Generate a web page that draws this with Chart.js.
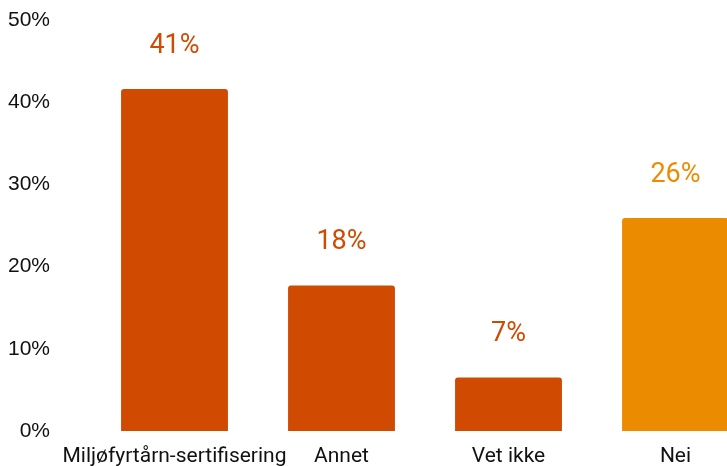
<!DOCTYPE html>
<html>
<head>
<meta charset="utf-8">
<script src="https://cdn.jsdelivr.net/npm/chart.js@4"></script>
<style>
  html, body { margin: 0; padding: 0; background: #fff; overflow: hidden; }
  #wrap { width: 759px; height: 466px; }
</style>
</head>
<body>
<div id="wrap"><canvas id="myChart" width="759" height="466"></canvas></div>
<script>
  const categories = ['Miljøfyrtårn-sertifisering', 'Annet', 'Vet ikke', 'Nei']
  const values = [41.6, 17.7, 6.5, 25.9]
  const valueLabels = ['41%', '18%', '7%', '26%']
  const barColors = ['#d04a02', '#d04a02', '#d04a02', '#eb8c00']
  const yTicks = [0, 10, 20, 30, 40, 50]

  // draws the percentage text above each bar
  const topLabels = {
    id: 'topLabels',
    afterDatasetsDraw(chart) {
      const c = chart.ctx
      const meta = chart.getDatasetMeta(0)
      c.save()
      c.font = '27px Roboto'
      c.textAlign = 'center'
      c.textBaseline = 'middle'
      meta.data.forEach((bar, i) => {
        c.fillStyle = barColors[i]
        c.fillText(valueLabels[i], bar.x, bar.y - 43)
      })
      c.restore()
    }
  }

  const ctx = document.getElementById('myChart')
  new Chart(ctx, {
    type: 'bar',
    data: {
      labels: categories,
      datasets: [{
        data: values,
        backgroundColor: barColors,
        borderRadius: { topLeft: 3, topRight: 3 },
        borderSkipped: 'bottom',
        categoryPercentage: 1,
        barPercentage: 0.64
      }]
    },
    options: {
      responsive: false,
      animation: false,
      layout: { padding: { top: 20, right: 0, bottom: 0, left: 0 } },
      plugins: { legend: { display: false }, tooltip: { enabled: false } },
      scales: {
        x: {
          afterFit(scale) { scale.height = 35; scale.paddingLeft = 0; scale.paddingRight = 0 },
          grid: { display: false, drawTicks: false },
          border: { display: false },
          ticks: { color: '#111', font: { family: 'Roboto', size: 21 }, padding: 13, maxRotation: 0, autoSkip: false }
        },
        y: {
          min: 0,
          max: 50,
          afterFit(scale) { scale.width = 91; scale.paddingTop = 0; scale.paddingBottom = 0 },
          afterBuildTicks(scale) { scale.ticks = yTicks.map(v => ({ value: v })) },
          grid: { display: false, drawTicks: false },
          border: { display: false },
          ticks: {
            color: '#111',
            font: { family: 'Liberation Sans', size: 21 },
            padding: 41,
            callback: v => v + '%'
          }
        }
      }
    },
    plugins: [topLabels]
  })
</script>
</body>
</html>
